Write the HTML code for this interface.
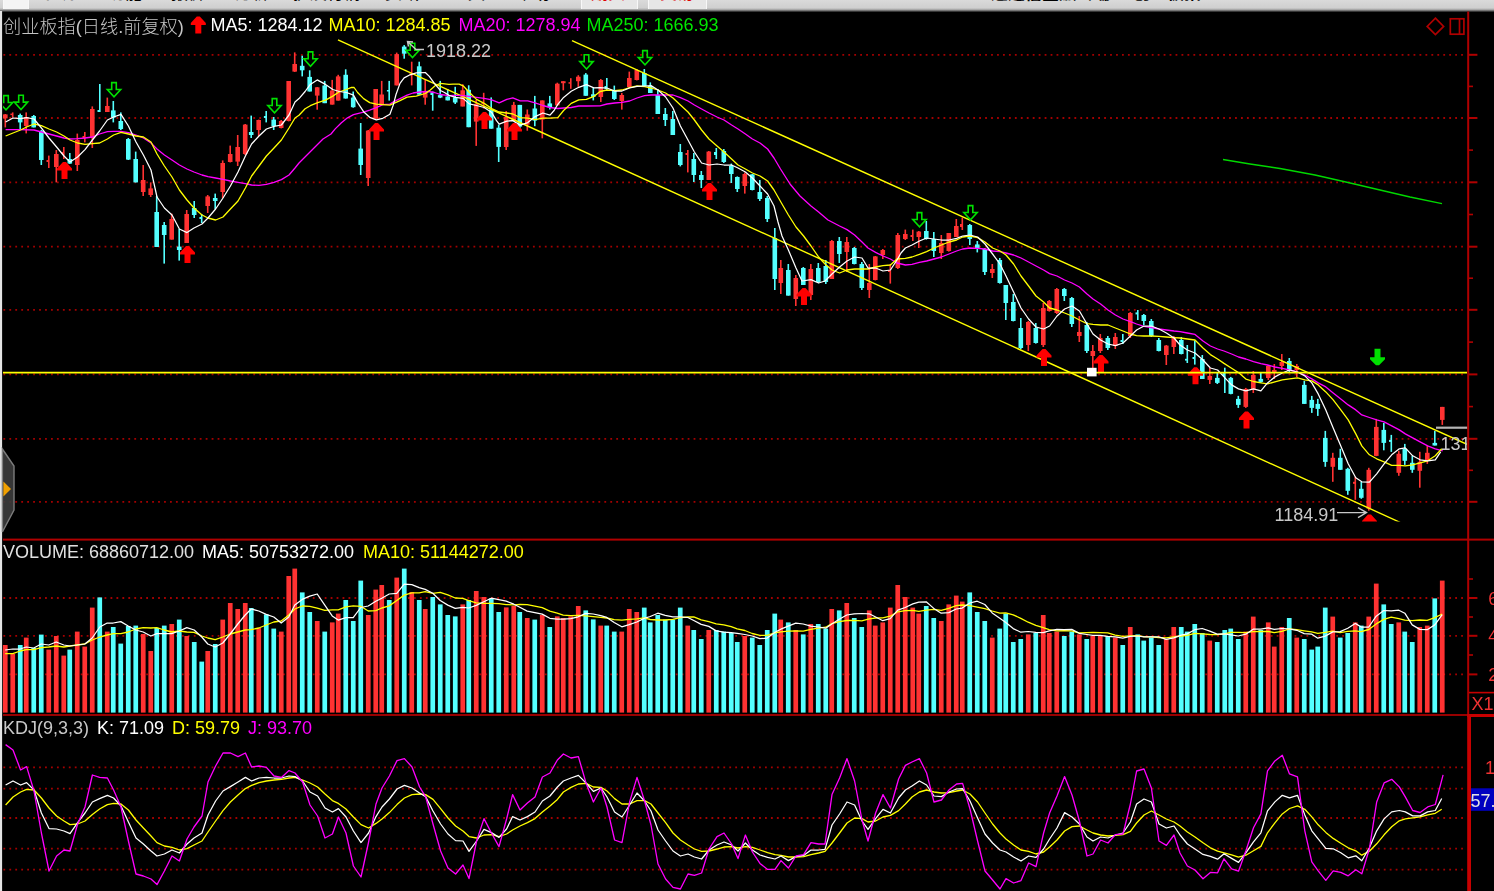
<!DOCTYPE html>
<html lang="zh-CN"><head><meta charset="utf-8"><title>创业板指</title>
<style>
html,body{margin:0;padding:0;background:#000;}
body{width:1494px;height:891px;overflow:hidden;position:relative;font-family:"Liberation Sans","Noto Sans CJK SC",sans-serif;}
#topbar{position:absolute;left:0;top:0;width:1494px;height:13px;overflow:hidden;
 background:linear-gradient(#dadada 0,#cfcfcf 8px,#a4a4a4 9.7px,#585858 11px,#000 12.3px);}
#topbar span{position:absolute;top:-16.5px;font-size:17px;line-height:20px;color:#000;white-space:nowrap;}
#topbar span.r{color:#e00000;}
#topbar i{position:absolute;top:0;height:8.5px;background:#e6e6e6;border-left:1px solid #f8f8f8;border-right:1px solid #f8f8f8;}
</style></head>
<body>
<div id="topbar">
<i style="left:2.5px;width:24px;background:#f4f4f4"></i>
<i style="left:581px;width:55px"></i><i style="left:648px;width:57px"></i>
<span style="left:41px">系统</span><span style="left:108px">功能</span><span style="left:171px">报价</span><span style="left:235px">分析</span>
<span style="left:293px">扩展行情</span><span style="left:385px">资讯</span><span style="left:451px">工具</span><span style="left:516px">帮助</span>
<span class="r" style="left:591px">期货</span><span class="r" style="left:660px">交易</span>
<span style="left:991px;font-weight:bold">通达信金融终端</span><span style="left:1133px;font-weight:bold">创业板指</span>
</div>
<svg width="1494" height="891" viewBox="0 0 1494 891" style="position:absolute;left:0;top:0;will-change:transform">
<g stroke="#a40000" stroke-width="1.8" stroke-dasharray="1.8 4.15" fill="none">
<line x1="3.4" y1="54.8" x2="1465" y2="54.8"/>
<line x1="3.4" y1="118" x2="1465" y2="118"/>
<line x1="3.4" y1="182.3" x2="1465" y2="182.3"/>
<line x1="3.4" y1="246.7" x2="1465" y2="246.7"/>
<line x1="3.4" y1="309.8" x2="1465" y2="309.8"/>
<line x1="3.4" y1="374.4" x2="1465" y2="374.4"/>
<line x1="3.4" y1="438.8" x2="1465" y2="438.8"/>
<line x1="3.4" y1="501.8" x2="1465" y2="501.8"/>
<line x1="3.4" y1="598" x2="1465" y2="598"/>
<line x1="3.4" y1="635.8" x2="1465" y2="635.8"/>
<line x1="3.4" y1="674.4" x2="1465" y2="674.4"/>
<line x1="3.4" y1="767.4" x2="1465" y2="767.4"/>
<line x1="3.4" y1="788.6" x2="1465" y2="788.6"/>
<line x1="3.4" y1="818" x2="1465" y2="818"/>
<line x1="3.4" y1="848.6" x2="1465" y2="848.6"/>
<line x1="3.4" y1="869.6" x2="1465" y2="869.6"/>
</g>
<defs><clipPath id="cm"><rect x="3" y="12" width="1464" height="509.5"/></clipPath><clipPath id="ck"><rect x="3" y="717" width="1464" height="174"/></clipPath></defs>
<g clip-path="url(#cm)">
<rect x="4.5" y="114" width="1.6" height="13.4" fill="#ff3232"/>
<rect x="3" y="114.4" width="4.6" height="4" fill="#ff3232"/>
<rect x="11.9" y="112.4" width="1.6" height="5.2" fill="#ff3232"/>
<rect x="10.4" y="113.6" width="2.3" height="1.5" fill="#ff3232"/>
<rect x="19.4" y="113.6" width="1.6" height="15.4" fill="#54ffff"/>
<rect x="17.9" y="115" width="4.6" height="7.4" fill="#54ffff"/>
<rect x="25.4" y="112.4" width="1.6" height="21" fill="#ff3232"/>
<rect x="23.9" y="117" width="4.6" height="9" fill="#ff3232"/>
<rect x="33" y="115" width="1.6" height="12.4" fill="#54ffff"/>
<rect x="31.4" y="116" width="4.6" height="11.4" fill="#54ffff"/>
<rect x="40.5" y="130" width="1.6" height="35" fill="#54ffff"/>
<rect x="39" y="131" width="4.6" height="29" fill="#54ffff"/>
<rect x="48" y="155.6" width="1.6" height="12.4" fill="#ff3232"/>
<rect x="46.5" y="160" width="2.3" height="2" fill="#ff3232"/>
<rect x="55.5" y="150" width="1.6" height="32.4" fill="#ff3232"/>
<rect x="54" y="154" width="4.6" height="13" fill="#ff3232"/>
<rect x="63" y="147" width="1.6" height="12" fill="#ff3232"/>
<rect x="61.5" y="152" width="2.3" height="2" fill="#ff3232"/>
<rect x="69" y="153" width="1.6" height="11" fill="#54ffff"/>
<rect x="67.5" y="159" width="4.6" height="4.6" fill="#54ffff"/>
<rect x="76.5" y="133.6" width="1.6" height="37.4" fill="#ff3232"/>
<rect x="75" y="140" width="4.6" height="25" fill="#ff3232"/>
<rect x="84" y="132" width="1.6" height="10.4" fill="#ff3232"/>
<rect x="82.5" y="136" width="2.3" height="2" fill="#ff3232"/>
<rect x="91.5" y="106.4" width="1.6" height="41.6" fill="#ff3232"/>
<rect x="90" y="109" width="4.6" height="29" fill="#ff3232"/>
<rect x="99" y="84" width="1.6" height="28" fill="#54ffff"/>
<rect x="97.5" y="110" width="2.3" height="2" fill="#54ffff"/>
<rect x="106.5" y="97.6" width="1.6" height="14.4" fill="#ff3232"/>
<rect x="105" y="106" width="4.6" height="6" fill="#ff3232"/>
<rect x="112.5" y="101" width="1.6" height="21.4" fill="#54ffff"/>
<rect x="111" y="110.4" width="4.6" height="7.2" fill="#54ffff"/>
<rect x="120" y="112.4" width="1.6" height="17.6" fill="#54ffff"/>
<rect x="118.5" y="121" width="4.6" height="8" fill="#54ffff"/>
<rect x="127.5" y="138" width="1.6" height="22" fill="#54ffff"/>
<rect x="126" y="139" width="4.6" height="20.6" fill="#54ffff"/>
<rect x="134.9" y="151.6" width="1.6" height="30.8" fill="#54ffff"/>
<rect x="133.4" y="159" width="4.6" height="23.4" fill="#54ffff"/>
<rect x="142.4" y="165" width="1.6" height="31" fill="#ff3232"/>
<rect x="140.9" y="180" width="4.6" height="12" fill="#ff3232"/>
<rect x="149.9" y="182.4" width="1.6" height="14.6" fill="#ff3232"/>
<rect x="148.4" y="188.4" width="4.6" height="6.6" fill="#ff3232"/>
<rect x="155.9" y="196" width="1.6" height="51" fill="#54ffff"/>
<rect x="154.4" y="212" width="4.6" height="35" fill="#54ffff"/>
<rect x="163.4" y="222" width="1.6" height="41.6" fill="#54ffff"/>
<rect x="161.9" y="225" width="4.6" height="10" fill="#54ffff"/>
<rect x="170.9" y="213.6" width="1.6" height="26" fill="#ff3232"/>
<rect x="169.4" y="219" width="4.6" height="20.6" fill="#ff3232"/>
<rect x="178.4" y="229" width="1.6" height="31.6" fill="#54ffff"/>
<rect x="176.9" y="246.6" width="4.6" height="3.4" fill="#54ffff"/>
<rect x="185.9" y="210" width="1.6" height="33" fill="#ff3232"/>
<rect x="184.4" y="214" width="4.6" height="29" fill="#ff3232"/>
<rect x="193.4" y="201" width="1.6" height="17" fill="#54ffff"/>
<rect x="191.9" y="208" width="4.6" height="7" fill="#54ffff"/>
<rect x="200.9" y="214" width="1.6" height="9" fill="#54ffff"/>
<rect x="199.4" y="217" width="2.3" height="2" fill="#54ffff"/>
<rect x="206.9" y="195" width="1.6" height="18" fill="#ff3232"/>
<rect x="205.4" y="196.4" width="4.6" height="9.6" fill="#ff3232"/>
<rect x="214.4" y="193.6" width="1.6" height="15.4" fill="#54ffff"/>
<rect x="212.9" y="198" width="4.6" height="3" fill="#54ffff"/>
<rect x="221.9" y="160.4" width="1.6" height="37.6" fill="#ff3232"/>
<rect x="220.4" y="163" width="4.6" height="29" fill="#ff3232"/>
<rect x="229.4" y="145.6" width="1.6" height="16.8" fill="#ff3232"/>
<rect x="227.9" y="154" width="4.6" height="8" fill="#ff3232"/>
<rect x="236.9" y="135" width="1.6" height="31" fill="#ff3232"/>
<rect x="235.4" y="147" width="4.6" height="14.6" fill="#ff3232"/>
<rect x="244.4" y="124" width="1.6" height="31" fill="#ff3232"/>
<rect x="242.9" y="124.6" width="4.6" height="29.4" fill="#ff3232"/>
<rect x="250.4" y="115.6" width="1.6" height="22.4" fill="#54ffff"/>
<rect x="248.9" y="132" width="4.6" height="3" fill="#54ffff"/>
<rect x="257.9" y="119.6" width="1.6" height="16.4" fill="#ff3232"/>
<rect x="256.4" y="120" width="4.6" height="10" fill="#ff3232"/>
<rect x="265.4" y="111" width="1.6" height="11.4" fill="#54ffff"/>
<rect x="263.9" y="116" width="2.3" height="2" fill="#54ffff"/>
<rect x="272.9" y="117" width="1.6" height="13" fill="#54ffff"/>
<rect x="271.4" y="119.6" width="4.6" height="6.4" fill="#54ffff"/>
<rect x="280.4" y="120" width="1.6" height="8.4" fill="#ff3232"/>
<rect x="278.9" y="121" width="4.6" height="7" fill="#ff3232"/>
<rect x="287.9" y="81" width="1.6" height="40.4" fill="#ff3232"/>
<rect x="286.4" y="81" width="4.6" height="40" fill="#ff3232"/>
<rect x="293.9" y="52.4" width="1.6" height="19.6" fill="#ff3232"/>
<rect x="292.4" y="64" width="4.6" height="7.6" fill="#ff3232"/>
<rect x="301.4" y="55.7" width="1.6" height="20.7" fill="#54ffff"/>
<rect x="299.9" y="65.8" width="4.6" height="4.5" fill="#54ffff"/>
<rect x="308.9" y="70.3" width="1.6" height="21.2" fill="#54ffff"/>
<rect x="307.4" y="76.9" width="4.6" height="14.6" fill="#54ffff"/>
<rect x="316.4" y="87" width="1.6" height="22.7" fill="#ff3232"/>
<rect x="314.9" y="87.3" width="4.6" height="8.3" fill="#ff3232"/>
<rect x="323.9" y="80.9" width="1.6" height="22.2" fill="#54ffff"/>
<rect x="322.4" y="85.5" width="4.6" height="17.7" fill="#54ffff"/>
<rect x="331.4" y="79.9" width="1.6" height="24.7" fill="#ff3232"/>
<rect x="329.9" y="90.5" width="4.6" height="14.1" fill="#ff3232"/>
<rect x="337.4" y="74.8" width="1.6" height="25.8" fill="#ff3232"/>
<rect x="335.9" y="76.4" width="4.6" height="24.2" fill="#ff3232"/>
<rect x="344.9" y="69.3" width="1.6" height="29.3" fill="#54ffff"/>
<rect x="343.4" y="74.8" width="4.6" height="23.7" fill="#54ffff"/>
<rect x="352.4" y="91.5" width="1.6" height="16.2" fill="#54ffff"/>
<rect x="350.9" y="97.6" width="4.6" height="9.6" fill="#54ffff"/>
<rect x="359.9" y="123" width="1.6" height="52" fill="#54ffff"/>
<rect x="358.4" y="148.6" width="4.6" height="16.4" fill="#54ffff"/>
<rect x="367.4" y="130" width="1.6" height="56" fill="#ff3232"/>
<rect x="365.9" y="130.6" width="4.6" height="47.4" fill="#ff3232"/>
<rect x="374.9" y="89" width="1.6" height="29.8" fill="#ff3232"/>
<rect x="373.4" y="89" width="4.6" height="29.8" fill="#ff3232"/>
<rect x="380.9" y="80.9" width="1.6" height="23.7" fill="#ff3232"/>
<rect x="379.4" y="94.5" width="4.6" height="10.1" fill="#ff3232"/>
<rect x="388.4" y="80.9" width="1.6" height="19.7" fill="#54ffff"/>
<rect x="386.9" y="90" width="2.3" height="1.5" fill="#54ffff"/>
<rect x="395.9" y="52.6" width="1.6" height="32.8" fill="#ff3232"/>
<rect x="394.4" y="54.1" width="4.6" height="31.3" fill="#ff3232"/>
<rect x="403.4" y="45.1" width="1.6" height="13.6" fill="#54ffff"/>
<rect x="401.9" y="46.6" width="4.6" height="7.1" fill="#54ffff"/>
<rect x="410.9" y="61.7" width="1.6" height="23.7" fill="#ff3232"/>
<rect x="409.4" y="73.3" width="2.3" height="1.5" fill="#ff3232"/>
<rect x="418.4" y="61.7" width="1.6" height="32.8" fill="#54ffff"/>
<rect x="416.9" y="66.3" width="4.6" height="28.3" fill="#54ffff"/>
<rect x="424.4" y="79.4" width="1.6" height="25.3" fill="#ff3232"/>
<rect x="422.9" y="91" width="4.6" height="6.6" fill="#ff3232"/>
<rect x="431.9" y="91.5" width="1.6" height="19.2" fill="#54ffff"/>
<rect x="430.4" y="92.5" width="2.3" height="2.5" fill="#54ffff"/>
<rect x="439.4" y="80.9" width="1.6" height="17.2" fill="#54ffff"/>
<rect x="437.9" y="95.1" width="4.6" height="2.5" fill="#54ffff"/>
<rect x="446.9" y="89" width="1.6" height="11.4" fill="#54ffff"/>
<rect x="445.4" y="96.5" width="4.6" height="3.9" fill="#54ffff"/>
<rect x="454.4" y="86.8" width="1.6" height="17.2" fill="#54ffff"/>
<rect x="452.9" y="97.4" width="4.6" height="5.1" fill="#54ffff"/>
<rect x="461.9" y="84.2" width="1.6" height="22.2" fill="#ff3232"/>
<rect x="460.4" y="90.3" width="4.6" height="16.2" fill="#ff3232"/>
<rect x="467.9" y="85.3" width="1.6" height="41.9" fill="#54ffff"/>
<rect x="466.4" y="89.8" width="4.6" height="37.4" fill="#54ffff"/>
<rect x="475.4" y="99.9" width="1.6" height="46" fill="#ff3232"/>
<rect x="473.9" y="103.9" width="4.6" height="17.7" fill="#ff3232"/>
<rect x="482.9" y="92.8" width="1.6" height="15.7" fill="#ff3232"/>
<rect x="481.4" y="102.4" width="2.3" height="1.5" fill="#ff3232"/>
<rect x="490.4" y="97.4" width="1.6" height="31.3" fill="#54ffff"/>
<rect x="488.9" y="109.5" width="4.6" height="19.2" fill="#54ffff"/>
<rect x="497.9" y="124.6" width="1.6" height="37.4" fill="#54ffff"/>
<rect x="496.4" y="127.7" width="4.6" height="19.2" fill="#54ffff"/>
<rect x="505.4" y="111" width="1.6" height="39" fill="#ff3232"/>
<rect x="503.9" y="117" width="4.6" height="30" fill="#ff3232"/>
<rect x="513" y="101.9" width="1.6" height="18.7" fill="#ff3232"/>
<rect x="511.4" y="104.9" width="4.6" height="15.7" fill="#ff3232"/>
<rect x="519" y="104.9" width="1.6" height="24.7" fill="#54ffff"/>
<rect x="517.5" y="104.9" width="4.6" height="21.7" fill="#54ffff"/>
<rect x="526.5" y="109.5" width="1.6" height="21.2" fill="#ff3232"/>
<rect x="525" y="114.5" width="4.6" height="10.1" fill="#ff3232"/>
<rect x="534" y="95.9" width="1.6" height="30.3" fill="#54ffff"/>
<rect x="532.5" y="108.5" width="4.6" height="12.1" fill="#54ffff"/>
<rect x="541.5" y="100.4" width="1.6" height="37.9" fill="#ff3232"/>
<rect x="540" y="100.4" width="4.6" height="19.2" fill="#ff3232"/>
<rect x="549" y="95.9" width="1.6" height="13.6" fill="#54ffff"/>
<rect x="547.5" y="103.4" width="4.6" height="4" fill="#54ffff"/>
<rect x="556.5" y="82.7" width="1.6" height="22.7" fill="#ff3232"/>
<rect x="555" y="83.7" width="4.6" height="21.7" fill="#ff3232"/>
<rect x="562.5" y="81.2" width="1.6" height="9.1" fill="#ff3232"/>
<rect x="561" y="81.2" width="4.6" height="2" fill="#ff3232"/>
<rect x="570" y="78.2" width="1.6" height="10.6" fill="#ff3232"/>
<rect x="568.5" y="82.2" width="2.3" height="1.5" fill="#ff3232"/>
<rect x="577.5" y="75.2" width="1.6" height="11.6" fill="#ff3232"/>
<rect x="576" y="76.7" width="4.6" height="4.5" fill="#ff3232"/>
<rect x="585" y="73.1" width="1.6" height="22.7" fill="#54ffff"/>
<rect x="583.5" y="74.6" width="4.6" height="21.2" fill="#54ffff"/>
<rect x="592.5" y="87.8" width="1.6" height="12.6" fill="#54ffff"/>
<rect x="591" y="94.3" width="4.6" height="2.5" fill="#54ffff"/>
<rect x="600" y="79" width="1.6" height="23" fill="#ff3232"/>
<rect x="598.5" y="80" width="4.6" height="17" fill="#ff3232"/>
<rect x="606" y="78" width="1.6" height="12" fill="#54ffff"/>
<rect x="604.5" y="86" width="2.3" height="3" fill="#54ffff"/>
<rect x="613.5" y="85.6" width="1.6" height="14.4" fill="#54ffff"/>
<rect x="612" y="90" width="4.6" height="9" fill="#54ffff"/>
<rect x="621" y="93" width="1.6" height="16.6" fill="#ff3232"/>
<rect x="619.5" y="95" width="4.6" height="6" fill="#ff3232"/>
<rect x="628.5" y="71.6" width="1.6" height="16.4" fill="#ff3232"/>
<rect x="627" y="78" width="4.6" height="9" fill="#ff3232"/>
<rect x="636" y="69" width="1.6" height="11.4" fill="#ff3232"/>
<rect x="634.5" y="70" width="4.6" height="10" fill="#ff3232"/>
<rect x="643.5" y="69" width="1.6" height="18" fill="#54ffff"/>
<rect x="642" y="73" width="4.6" height="13" fill="#54ffff"/>
<rect x="649.5" y="82.4" width="1.6" height="10.6" fill="#54ffff"/>
<rect x="648" y="86" width="4.6" height="7" fill="#54ffff"/>
<rect x="657" y="89" width="1.6" height="25" fill="#54ffff"/>
<rect x="655.5" y="95" width="4.6" height="19" fill="#54ffff"/>
<rect x="664.5" y="108" width="1.6" height="18" fill="#54ffff"/>
<rect x="663" y="114" width="4.6" height="6" fill="#54ffff"/>
<rect x="672" y="111" width="1.6" height="24" fill="#54ffff"/>
<rect x="670.5" y="119" width="4.6" height="16" fill="#54ffff"/>
<rect x="679.5" y="144" width="1.6" height="22.4" fill="#54ffff"/>
<rect x="678" y="152" width="4.6" height="13" fill="#54ffff"/>
<rect x="687" y="150" width="1.6" height="22.4" fill="#ff3232"/>
<rect x="685.5" y="153" width="2.3" height="2" fill="#ff3232"/>
<rect x="693" y="153" width="1.6" height="29" fill="#54ffff"/>
<rect x="691.5" y="159" width="4.6" height="16" fill="#54ffff"/>
<rect x="700.5" y="171" width="1.6" height="17" fill="#54ffff"/>
<rect x="699" y="175" width="4.6" height="5" fill="#54ffff"/>
<rect x="708" y="151" width="1.6" height="29" fill="#ff3232"/>
<rect x="706.5" y="151.6" width="4.6" height="28.4" fill="#ff3232"/>
<rect x="715.5" y="148" width="1.6" height="11" fill="#54ffff"/>
<rect x="714" y="152" width="2.3" height="3" fill="#54ffff"/>
<rect x="723" y="149" width="1.6" height="14" fill="#54ffff"/>
<rect x="721.5" y="151" width="4.6" height="11" fill="#54ffff"/>
<rect x="730.5" y="163.6" width="1.6" height="19.4" fill="#54ffff"/>
<rect x="729" y="166" width="4.6" height="8" fill="#54ffff"/>
<rect x="736.5" y="176.4" width="1.6" height="15.6" fill="#54ffff"/>
<rect x="735" y="177" width="4.6" height="12" fill="#54ffff"/>
<rect x="744" y="172.4" width="1.6" height="21.2" fill="#ff3232"/>
<rect x="742.5" y="174" width="4.6" height="12" fill="#ff3232"/>
<rect x="751.5" y="174" width="1.6" height="16.4" fill="#54ffff"/>
<rect x="750" y="174.4" width="4.6" height="15.6" fill="#54ffff"/>
<rect x="759" y="180" width="1.6" height="21" fill="#54ffff"/>
<rect x="757.5" y="192" width="4.6" height="7" fill="#54ffff"/>
<rect x="766.5" y="196" width="1.6" height="26" fill="#54ffff"/>
<rect x="765" y="198" width="4.6" height="21" fill="#54ffff"/>
<rect x="774" y="228" width="1.6" height="62" fill="#54ffff"/>
<rect x="772.5" y="238" width="4.6" height="41" fill="#54ffff"/>
<rect x="780" y="260" width="1.6" height="34" fill="#ff3232"/>
<rect x="778.5" y="268" width="4.6" height="15" fill="#ff3232"/>
<rect x="787.5" y="264" width="1.6" height="31.6" fill="#54ffff"/>
<rect x="786" y="270" width="4.6" height="25.6" fill="#54ffff"/>
<rect x="795" y="275" width="1.6" height="31" fill="#ff3232"/>
<rect x="793.5" y="278" width="4.6" height="21" fill="#ff3232"/>
<rect x="802.5" y="267" width="1.6" height="18" fill="#54ffff"/>
<rect x="801" y="268" width="4.6" height="17" fill="#54ffff"/>
<rect x="810" y="264" width="1.6" height="36" fill="#ff3232"/>
<rect x="808.5" y="269" width="4.6" height="26" fill="#ff3232"/>
<rect x="817.5" y="263" width="1.6" height="20" fill="#54ffff"/>
<rect x="816" y="268" width="4.6" height="14" fill="#54ffff"/>
<rect x="825" y="260" width="1.6" height="24" fill="#54ffff"/>
<rect x="823.5" y="266" width="4.6" height="16" fill="#54ffff"/>
<rect x="831" y="240" width="1.6" height="39" fill="#ff3232"/>
<rect x="829.5" y="241" width="4.6" height="38" fill="#ff3232"/>
<rect x="838.5" y="237" width="1.6" height="26" fill="#54ffff"/>
<rect x="837" y="241" width="4.6" height="13" fill="#54ffff"/>
<rect x="846" y="237" width="1.6" height="35" fill="#ff3232"/>
<rect x="844.5" y="242" width="4.6" height="10" fill="#ff3232"/>
<rect x="853.5" y="247" width="1.6" height="17.4" fill="#54ffff"/>
<rect x="852" y="248" width="4.6" height="16" fill="#54ffff"/>
<rect x="861" y="262" width="1.6" height="28" fill="#54ffff"/>
<rect x="859.5" y="264" width="4.6" height="24" fill="#54ffff"/>
<rect x="868.5" y="264" width="1.6" height="34" fill="#ff3232"/>
<rect x="867" y="283" width="4.6" height="7" fill="#ff3232"/>
<rect x="874.5" y="256" width="1.6" height="24.4" fill="#ff3232"/>
<rect x="873" y="256.4" width="4.6" height="23.6" fill="#ff3232"/>
<rect x="882" y="249" width="1.6" height="10" fill="#ff3232"/>
<rect x="880.5" y="250" width="4.6" height="5" fill="#ff3232"/>
<rect x="889.5" y="264" width="1.6" height="19.6" fill="#ff3232"/>
<rect x="888" y="270" width="2.3" height="2" fill="#ff3232"/>
<rect x="897" y="233" width="1.6" height="36" fill="#ff3232"/>
<rect x="895.5" y="235" width="4.6" height="33" fill="#ff3232"/>
<rect x="904.5" y="229.6" width="1.6" height="10.4" fill="#ff3232"/>
<rect x="903" y="234" width="4.6" height="5" fill="#ff3232"/>
<rect x="912" y="229.6" width="1.6" height="11.4" fill="#ff3232"/>
<rect x="910.5" y="235" width="2.3" height="2" fill="#ff3232"/>
<rect x="918" y="231" width="1.6" height="17" fill="#ff3232"/>
<rect x="916.5" y="231.6" width="4.6" height="5.4" fill="#ff3232"/>
<rect x="925.5" y="221" width="1.6" height="18.6" fill="#54ffff"/>
<rect x="924" y="231" width="4.6" height="8" fill="#54ffff"/>
<rect x="933" y="232" width="1.6" height="25" fill="#54ffff"/>
<rect x="931.5" y="239" width="4.6" height="12" fill="#54ffff"/>
<rect x="940.5" y="235" width="1.6" height="24" fill="#ff3232"/>
<rect x="939" y="243" width="4.6" height="10" fill="#ff3232"/>
<rect x="948" y="233" width="1.6" height="18.6" fill="#ff3232"/>
<rect x="946.5" y="233" width="4.6" height="18" fill="#ff3232"/>
<rect x="955.5" y="219" width="1.6" height="18" fill="#ff3232"/>
<rect x="954" y="226" width="4.6" height="11" fill="#ff3232"/>
<rect x="961.5" y="217.6" width="1.6" height="12.4" fill="#ff3232"/>
<rect x="960" y="224" width="2.3" height="3" fill="#ff3232"/>
<rect x="969" y="224" width="1.6" height="21" fill="#54ffff"/>
<rect x="967.5" y="225" width="4.6" height="14" fill="#54ffff"/>
<rect x="976.5" y="241" width="1.6" height="11.4" fill="#54ffff"/>
<rect x="975" y="244.4" width="4.6" height="3.6" fill="#54ffff"/>
<rect x="984" y="248" width="1.6" height="27" fill="#54ffff"/>
<rect x="982.5" y="249" width="4.6" height="23" fill="#54ffff"/>
<rect x="991.5" y="264" width="1.6" height="14" fill="#ff3232"/>
<rect x="990" y="269" width="4.6" height="4" fill="#ff3232"/>
<rect x="999" y="258" width="1.6" height="25.6" fill="#54ffff"/>
<rect x="997.5" y="260" width="4.6" height="23" fill="#54ffff"/>
<rect x="1005" y="285" width="1.6" height="35" fill="#54ffff"/>
<rect x="1003.5" y="285" width="4.6" height="18" fill="#54ffff"/>
<rect x="1012.5" y="294" width="1.6" height="27.4" fill="#54ffff"/>
<rect x="1011" y="302" width="4.6" height="19" fill="#54ffff"/>
<rect x="1020" y="318" width="1.6" height="31" fill="#54ffff"/>
<rect x="1018.5" y="328" width="4.6" height="20" fill="#54ffff"/>
<rect x="1027.5" y="321" width="1.6" height="30" fill="#ff3232"/>
<rect x="1026" y="322" width="4.6" height="23" fill="#ff3232"/>
<rect x="1035" y="323" width="1.6" height="20.6" fill="#54ffff"/>
<rect x="1033.5" y="328" width="4.6" height="15" fill="#54ffff"/>
<rect x="1042.5" y="303" width="1.6" height="44" fill="#ff3232"/>
<rect x="1041" y="308" width="4.6" height="37" fill="#ff3232"/>
<rect x="1048.5" y="300" width="1.6" height="11.6" fill="#ff3232"/>
<rect x="1047" y="301" width="4.6" height="10" fill="#ff3232"/>
<rect x="1056" y="288" width="1.6" height="26" fill="#ff3232"/>
<rect x="1054.5" y="289" width="4.6" height="24" fill="#ff3232"/>
<rect x="1063.5" y="288" width="1.6" height="13" fill="#54ffff"/>
<rect x="1062" y="289" width="4.6" height="7" fill="#54ffff"/>
<rect x="1071" y="297" width="1.6" height="30" fill="#54ffff"/>
<rect x="1069.5" y="298" width="4.6" height="26" fill="#54ffff"/>
<rect x="1078.5" y="316" width="1.6" height="26" fill="#ff3232"/>
<rect x="1077" y="332" width="4.6" height="4" fill="#ff3232"/>
<rect x="1086" y="322" width="1.6" height="31" fill="#54ffff"/>
<rect x="1084.5" y="325" width="4.6" height="26" fill="#54ffff"/>
<rect x="1092" y="345" width="1.6" height="23" fill="#ff3232"/>
<rect x="1090.5" y="351" width="4.6" height="5" fill="#ff3232"/>
<rect x="1099.5" y="334" width="1.6" height="19" fill="#ff3232"/>
<rect x="1098" y="338" width="4.6" height="13" fill="#ff3232"/>
<rect x="1107" y="336" width="1.6" height="14" fill="#54ffff"/>
<rect x="1105.5" y="338" width="4.6" height="10" fill="#54ffff"/>
<rect x="1114.5" y="333" width="1.6" height="16" fill="#ff3232"/>
<rect x="1113" y="337" width="4.6" height="9" fill="#ff3232"/>
<rect x="1122" y="334" width="1.6" height="10" fill="#54ffff"/>
<rect x="1120.5" y="340" width="2.3" height="2" fill="#54ffff"/>
<rect x="1129.5" y="312" width="1.6" height="26" fill="#ff3232"/>
<rect x="1128" y="313" width="4.6" height="23" fill="#ff3232"/>
<rect x="1137" y="310" width="1.6" height="10" fill="#54ffff"/>
<rect x="1135.5" y="312.4" width="2.3" height="2" fill="#54ffff"/>
<rect x="1143" y="314" width="1.6" height="11" fill="#54ffff"/>
<rect x="1141.5" y="315" width="4.6" height="6" fill="#54ffff"/>
<rect x="1150.5" y="319" width="1.6" height="18" fill="#54ffff"/>
<rect x="1149" y="321" width="4.6" height="15" fill="#54ffff"/>
<rect x="1158" y="338" width="1.6" height="13.4" fill="#54ffff"/>
<rect x="1156.5" y="340" width="4.6" height="11" fill="#54ffff"/>
<rect x="1165.5" y="345" width="1.6" height="20" fill="#ff3232"/>
<rect x="1164" y="345.6" width="4.6" height="9.4" fill="#ff3232"/>
<rect x="1173" y="336" width="1.6" height="18" fill="#ff3232"/>
<rect x="1171.5" y="338" width="4.6" height="9" fill="#ff3232"/>
<rect x="1180.5" y="337" width="1.6" height="17.4" fill="#54ffff"/>
<rect x="1179" y="340" width="4.6" height="14" fill="#54ffff"/>
<rect x="1186.5" y="345" width="1.6" height="18" fill="#54ffff"/>
<rect x="1185" y="358.8" width="2.3" height="1.8" fill="#54ffff"/>
<rect x="1194" y="340.4" width="1.6" height="24.2" fill="#54ffff"/>
<rect x="1192.5" y="357" width="2.3" height="2" fill="#54ffff"/>
<rect x="1201.5" y="355" width="1.6" height="24" fill="#54ffff"/>
<rect x="1200" y="359" width="4.6" height="20" fill="#54ffff"/>
<rect x="1209" y="368" width="1.6" height="16" fill="#ff3232"/>
<rect x="1207.5" y="375.9" width="4.6" height="4" fill="#ff3232"/>
<rect x="1216.5" y="373" width="1.6" height="11" fill="#54ffff"/>
<rect x="1215" y="377.9" width="4.6" height="5" fill="#54ffff"/>
<rect x="1224" y="367.7" width="1.6" height="25.3" fill="#54ffff"/>
<rect x="1222.5" y="373" width="2.3" height="3" fill="#54ffff"/>
<rect x="1230" y="376.9" width="1.6" height="17.4" fill="#54ffff"/>
<rect x="1228.5" y="377.9" width="4.6" height="16" fill="#54ffff"/>
<rect x="1237.5" y="395.9" width="1.6" height="12" fill="#54ffff"/>
<rect x="1236" y="398.9" width="4.6" height="6" fill="#54ffff"/>
<rect x="1245" y="387.9" width="1.6" height="20" fill="#ff3232"/>
<rect x="1243.5" y="388.9" width="4.6" height="18" fill="#ff3232"/>
<rect x="1252.5" y="371" width="1.6" height="22" fill="#ff3232"/>
<rect x="1251" y="375" width="4.6" height="15" fill="#ff3232"/>
<rect x="1260" y="373" width="1.6" height="10" fill="#54ffff"/>
<rect x="1258.5" y="378.9" width="4.6" height="3" fill="#54ffff"/>
<rect x="1267.5" y="365" width="1.6" height="15" fill="#ff3232"/>
<rect x="1266" y="366" width="4.6" height="12" fill="#ff3232"/>
<rect x="1273.5" y="364" width="1.6" height="15" fill="#ff3232"/>
<rect x="1272" y="370" width="4.6" height="3" fill="#ff3232"/>
<rect x="1281" y="354" width="1.6" height="16" fill="#ff3232"/>
<rect x="1279.5" y="362" width="4.6" height="4" fill="#ff3232"/>
<rect x="1288.5" y="358" width="1.6" height="14" fill="#54ffff"/>
<rect x="1287" y="361" width="4.6" height="10" fill="#54ffff"/>
<rect x="1296" y="364" width="1.6" height="13" fill="#ff3232"/>
<rect x="1294.5" y="366" width="4.6" height="4" fill="#ff3232"/>
<rect x="1303.5" y="380.9" width="1.6" height="23" fill="#54ffff"/>
<rect x="1302" y="384.9" width="4.6" height="19" fill="#54ffff"/>
<rect x="1311" y="395.9" width="1.6" height="17" fill="#54ffff"/>
<rect x="1309.5" y="399.9" width="4.6" height="8" fill="#54ffff"/>
<rect x="1317" y="398.9" width="1.6" height="17" fill="#54ffff"/>
<rect x="1315.5" y="403.9" width="4.6" height="5" fill="#54ffff"/>
<rect x="1324.5" y="430.9" width="1.6" height="35.9" fill="#54ffff"/>
<rect x="1323" y="437.9" width="4.6" height="24" fill="#54ffff"/>
<rect x="1332" y="452.8" width="1.6" height="29" fill="#ff3232"/>
<rect x="1330.5" y="457.8" width="4.6" height="9" fill="#ff3232"/>
<rect x="1339.5" y="448.8" width="1.6" height="21" fill="#54ffff"/>
<rect x="1338" y="457.8" width="4.6" height="12" fill="#54ffff"/>
<rect x="1347" y="467.8" width="1.6" height="27" fill="#54ffff"/>
<rect x="1345.5" y="468.8" width="4.6" height="22" fill="#54ffff"/>
<rect x="1354.5" y="476.8" width="1.6" height="23" fill="#ff3232"/>
<rect x="1353" y="481.8" width="2.3" height="2" fill="#ff3232"/>
<rect x="1360.5" y="481.8" width="1.6" height="17" fill="#54ffff"/>
<rect x="1359" y="488.8" width="4.6" height="9" fill="#54ffff"/>
<rect x="1368" y="467.8" width="1.6" height="42.9" fill="#ff3232"/>
<rect x="1366.5" y="469.8" width="4.6" height="38.9" fill="#ff3232"/>
<rect x="1375.5" y="418.9" width="1.6" height="37.3" fill="#ff3232"/>
<rect x="1374" y="426.9" width="4.6" height="29" fill="#ff3232"/>
<rect x="1383" y="422.9" width="1.6" height="27.4" fill="#54ffff"/>
<rect x="1381.5" y="429.9" width="4.6" height="13" fill="#54ffff"/>
<rect x="1390.5" y="434.9" width="1.6" height="17" fill="#54ffff"/>
<rect x="1389" y="439.9" width="2.3" height="2" fill="#54ffff"/>
<rect x="1398" y="450.8" width="1.6" height="25" fill="#ff3232"/>
<rect x="1396.5" y="453.8" width="4.6" height="19" fill="#ff3232"/>
<rect x="1404" y="443.9" width="1.6" height="21" fill="#54ffff"/>
<rect x="1402.5" y="448.8" width="4.6" height="12" fill="#54ffff"/>
<rect x="1411.5" y="455.8" width="1.6" height="17" fill="#54ffff"/>
<rect x="1410" y="462.8" width="4.6" height="7" fill="#54ffff"/>
<rect x="1419" y="451.8" width="1.6" height="35.9" fill="#ff3232"/>
<rect x="1417.5" y="461.8" width="4.6" height="9" fill="#ff3232"/>
<rect x="1426.5" y="445.9" width="1.6" height="18" fill="#ff3232"/>
<rect x="1425" y="452.8" width="4.6" height="8" fill="#ff3232"/>
<rect x="1434" y="430.9" width="1.6" height="14.6" fill="#54ffff"/>
<rect x="1432.5" y="442.9" width="4.6" height="2.6" fill="#54ffff"/>
<rect x="1441.5" y="406.9" width="1.6" height="18" fill="#ff3232"/>
<rect x="1440" y="406.9" width="4.6" height="13" fill="#ff3232"/>
</g>
<g clip-path="url(#cm)" stroke="#ffff00" fill="none">
<line x1="572" y1="40.7" x2="1467" y2="444.3" stroke-width="1.4"/>
<line x1="338" y1="39.9" x2="1400" y2="522.3" stroke-width="1.4"/>
</g>
<g clip-path="url(#cm)">
<polyline points="5.6,129.6 20.6,129.6 34,130 41.4,132 49,134 56.6,136 64,138 70,139 77.6,138.6 85,138 92.4,137 99.6,134 107.4,131.6 113.6,131.4 121,131.4 128.4,132.6 136,135 143.4,138 151,143 157,149 164.4,155 172,160 179.4,165 187,169 194,172 202,175 208,176.6 215.6,178 223,179.4 230.4,181 238,182.4 245.4,183.6 251.6,185 259,185.4 266.4,184.4 274,182.4 281.4,179.6 289,175 295,168 299,163 307,155 315,147 323,139 331,134 335.2,128.9 341.4,122.8 347.5,117.8 353.5,114.7 363.6,112.2 369.7,110.2 376.3,107.7 382.8,104.6 389.9,104.1 393.9,101.6 400,98.6 407.1,95.1 413.1,93 419.7,92 428.3,91.5 434.4,92.5 440.4,94.5 449,95.6 453,95.4 455.6,95.4 463.1,95.6 469.2,96.4 476.5,97.4 484.2,98.4 491.7,99.9 499.2,102.9 506.8,99.4 512.8,97.9 520.2,100.9 527.8,100.9 535.1,102.9 542.9,105.5 550,107.5 557.8,108.5 563.6,108 571.2,107.5 578.8,106 586.4,106 600,105.8 607,104 614.6,103 622,102.4 629.6,101 637,98 644.6,95.6 651,95 658,95 665.6,95 673,95 680.4,97.6 688,101 694.4,105 701.6,109 709,113 717,117 724,120 731.6,125 738,129 745.4,134 752.4,139 760,143 767.6,149 774,158 780.5,169 790,184 800,196 811,206 818.6,212 828,220 839.6,226 847,229.6 854.6,235 862,242 868,248 875.6,252.4 883,256 890.4,259 897,263 905.4,265 912,264.4 919.4,262.4 926.6,261 934,259 941.4,257 949,254 956.6,251 962.6,249 970,248 977.6,248.4 985,249 992.6,251 1000,251.6 1006,253 1013.6,255 1021,258 1028.6,262 1036,266 1043.6,270 1049.6,273.6 1057,276 1064.6,280 1072,283 1079.4,287 1087,294 1093,299 1100.6,304 1108,310 1115.4,315 1123,319 1130.4,321.6 1136.6,324 1144,326.4 1151.4,327.6 1159,329 1166.4,330 1174,331 1180,331.6 1187.4,333 1195,334.4 1203,341 1210.4,346 1217.6,349 1224,351 1231.6,354 1238.5,357 1245.9,359 1253.5,361.6 1260.9,363.6 1267.5,365 1274.9,367 1282.3,368.4 1289.5,370 1297.5,372 1304.8,375 1311.8,378.9 1318.2,382.9 1325.8,386.9 1333.2,392.9 1340.8,398.9 1348.2,404.9 1355.8,409.9 1361.8,414.9 1369.4,417.5 1376.7,419.9 1384.1,421.9 1391.7,425.9 1399.3,429.9 1405.3,433.9 1412.7,437.9 1420.1,441.9 1427.7,445.9 1435.3,448.8 1442.7,450.8" fill="none" stroke="#ff00ff" stroke-width="1.3" stroke-linejoin="round" />
<polyline points="5.6,136 13,133 20.6,130 26.6,127 34,124 41.4,125.6 49,129 56.6,132 64,136 70,140 77.6,143 85,144.4 92.4,143.6 99.6,143 107.4,139 113.6,135 121,132.4 128.4,134 136,136 143.4,137 151,142 157,154 164.4,166 172,177 179.4,190 187,200 194,208 202,215 208,218 215.6,220 223,217 230.4,209 238,201 245.4,188 251.6,176 259,166 266.4,156 274,148 281.4,140 289,128 295,118 299,115.3 305.1,108.7 310.3,105.7 317.7,102.6 325.5,100.1 332.8,96.1 338.9,92 346.3,89.5 351.5,87.3 354.1,87.5 357.6,92.5 363.6,98.6 369.7,102.6 376.3,104.1 382.3,104.6 389.9,105.2 400,100.6 407.1,97.1 416.2,96.1 425.3,93.5 430.3,90 435.4,85.5 440.4,83.4 449,84.4 453,84.2 459.1,84.2 463.1,85.8 469.2,92.3 476.5,99.4 484.2,103.4 491.7,108.5 499.2,112 506.8,113 512.8,114 520.2,117.6 527.8,118.1 535.1,119.6 542.9,118.1 550,118.1 557.8,117.6 563.6,110.5 571.2,103.4 578.8,99.9 586.4,99.4 593.9,96.4 600,91.5 607,90 614.6,90.6 622,90 629.6,87.6 637,86 644.6,86.6 651,88 658,90 665.6,93 673,98 680.4,105 688,112 694.4,120 701.6,130 709,139 717,146 724,152 731.6,159 738,165 745.4,169 752.4,173 760,176 767.6,181 774,190 782,204 788.4,215 796,227 803.6,236 811,246 818.6,257 825,264 832,270 839.6,273 847,270 854.6,269 862,269 868,269 875.6,267 883,265.6 890.4,265 897,259 905.4,258.4 912,257 919.4,254.4 926.6,251.6 934,248 941.4,245 949,242 956.6,240 962.6,237 970,236 977.6,237.6 985,242 992.6,248 1000,251 1006,255 1013.6,264 1021,276 1028.6,286 1036,296 1043.6,302 1049.6,308 1057,310 1064.6,313 1072,316 1079.4,320 1087,323.6 1093,324.4 1100.6,325 1108,325 1115.4,328 1123,331 1130.4,334 1136.6,335.6 1144,336 1151.4,336 1159,336.4 1166.4,337 1174,337.6 1180,338 1187.4,339 1195,340 1203,348 1210.4,354.6 1217.6,359 1224,363.4 1231.6,368.2 1238.5,372.6 1245.9,379.1 1253.5,381.5 1260.9,382.9 1267.5,383.9 1274.9,381.9 1282.3,379.9 1289.5,378.9 1297.5,377.9 1304.8,379.9 1311.8,380.9 1318.2,384.9 1325.8,391.9 1333.2,399.9 1340.8,409.9 1348.2,419.9 1355.8,433.9 1361.8,445.9 1369.4,454.8 1376.7,458.8 1384.1,461.8 1391.7,465.4 1399.3,465.4 1405.3,465.8 1412.7,464.8 1420.1,462.8 1427.7,460.8 1435.3,455.8 1441.7,448.8" fill="none" stroke="#ffff00" stroke-width="1.3" stroke-linejoin="round" />
<polyline points="5.6,122 13,118 20.6,118.6 26.6,117.6 34,119 41.4,128 49,138 56.6,147 64,156 70,162 77.6,157 85,149.6 92.4,140 99.6,131 107.4,120 113.6,117 121,114.4 128.4,126 136,142 143.4,155 151,170 157,197 164.4,208 172,215 179.4,229 187,232.6 194,228 202,224 208,218 215.6,209 223,198 230.4,186 238,172 245.4,156 251.6,144 259,136 266.4,129 274,126.4 281.4,125 289,115 295,102 299,98.6 305.1,91.5 310.3,84.4 317.2,79.9 325.5,84.4 332.8,89.5 339.4,91.5 346.5,92.5 353.5,95.1 357.6,102.6 363.6,111.7 369.7,117.3 376.3,119.8 382.8,118.3 389.9,114.2 393.4,104.6 396,94.5 400,83.4 404.1,77.9 410.1,74.8 416.2,72.8 425.3,72.5 429.3,76.4 434.4,83.4 440.4,90.5 444.5,92.5 449,95.4 455.6,97.4 463.1,98.4 469.2,103.9 476.5,105.5 484.2,107.5 491.7,112.5 496.5,120.6 499.2,124.1 506.8,121.1 512.8,120.6 520.2,125.2 527.8,122.6 535.1,116.6 542.9,113 550,115.1 554.1,110.5 557.8,104.4 563.6,97.4 571.2,91.3 578.8,87.3 586.4,84.7 593.9,87.8 600,87.6 607,88 614.6,91 622,91 629.6,88 637,86.4 644.6,86 651,85.6 658,90 665.6,97 673,108 680.4,126 688,140 694.4,152 701.6,163 709,165 717,164 724,165 731.6,165 738,168 745.4,172 752.4,178 760,186 767.6,194 774,206 778,222 782,236 788.4,250 796,268 802,281 811,279.6 818.6,283 825,281 832,274 839.6,267 847,261 854.6,257 862,258 868,268 875.6,268 883,271 890.4,270 897,260 901,253 905.4,248 912,245 919.4,241 926.6,238 934,239 941.4,240 949,240 956.6,238.4 962.6,236 970,235 977.6,237 985,244 992.6,254 1000,264 1006,276 1013.6,292 1021,308 1028.6,319 1036,327 1043.6,329 1049.6,326 1057,316 1064.6,309 1072,306 1079.4,311 1087,324 1093,334 1100.6,340 1108,344 1115.4,345.6 1123,343 1130.4,336 1136.6,330 1144,326 1151.4,326 1159,329 1166.4,333 1174,338 1180,345 1187.4,350 1195,353 1203,360 1210.4,368 1217.6,370 1224,376.9 1231.6,384.9 1238.5,388.9 1245.9,390.9 1253.5,388.9 1260.9,390.9 1267.5,382.9 1274.9,376.9 1282.3,373 1289.5,370 1297.5,372 1304.8,375.9 1311.8,382.9 1318.2,393.9 1325.8,409.9 1333.2,427.9 1340.8,445.9 1348.2,463.8 1355.8,477.8 1361.8,481.8 1369.4,482.2 1376.7,473.8 1384.1,463.8 1391.7,454.8 1399.3,448.8 1405.3,447.8 1412.7,455.8 1420.1,459.8 1427.7,460.8 1435.3,459.8 1440.7,451.8" fill="none" stroke="#ffffff" stroke-width="1.25" stroke-linejoin="round" />
<polyline points="1223,159.5 1250,164 1280,168.5 1315,175 1348,182.5 1380,190 1410,197 1442,203.6" fill="none" stroke="#00d800" stroke-width="1.35" stroke-linejoin="round" />
</g>
<g clip-path="url(#cm)">
<path d="M3.7 95.6 L8.3 95.6 L8.3 102.5 L12.7 102.5 L6 109.9 L-0.7 102.5 L3.7 102.5 Z" fill="none" stroke="#00e000" stroke-width="1.6" stroke-linejoin="miter"/>
<path d="M18.7 95.2 L23.3 95.2 L23.3 102.1 L27.7 102.1 L21 109.5 L14.3 102.1 L18.7 102.1 Z" fill="none" stroke="#00e000" stroke-width="1.6" stroke-linejoin="miter"/>
<path d="M111.7 82.6 L116.3 82.6 L116.3 89.5 L120.7 89.5 L114 96.9 L107.3 89.5 L111.7 89.5 Z" fill="none" stroke="#00e000" stroke-width="1.6" stroke-linejoin="miter"/>
<path d="M272.2 98.6 L276.8 98.6 L276.8 105.5 L281.2 105.5 L274.5 112.9 L267.8 105.5 L272.2 105.5 Z" fill="none" stroke="#00e000" stroke-width="1.6" stroke-linejoin="miter"/>
<path d="M308.2 51.9 L312.8 51.9 L312.8 58.8 L317.2 58.8 L310.5 66.2 L303.8 58.8 L308.2 58.8 Z" fill="none" stroke="#00e000" stroke-width="1.6" stroke-linejoin="miter"/>
<path d="M410.2 43.3 L414.8 43.3 L414.8 50.2 L419.2 50.2 L412.5 57.6 L405.8 50.2 L410.2 50.2 Z" fill="none" stroke="#00e000" stroke-width="1.6" stroke-linejoin="miter"/>
<path d="M584.2 54.7 L588.8 54.7 L588.8 61.6 L593.2 61.6 L586.5 69 L579.8 61.6 L584.2 61.6 Z" fill="none" stroke="#00e000" stroke-width="1.6" stroke-linejoin="miter"/>
<path d="M642.7 50.6 L647.3 50.6 L647.3 57.5 L651.7 57.5 L645 64.9 L638.3 57.5 L642.7 57.5 Z" fill="none" stroke="#00e000" stroke-width="1.6" stroke-linejoin="miter"/>
<path d="M917.2 212.6 L921.8 212.6 L921.8 219.5 L926.2 219.5 L919.5 226.9 L912.8 219.5 L917.2 219.5 Z" fill="none" stroke="#00e000" stroke-width="1.6" stroke-linejoin="miter"/>
<path d="M968.2 205.6 L972.8 205.6 L972.8 212.5 L977.2 212.5 L970.5 219.9 L963.8 212.5 L968.2 212.5 Z" fill="none" stroke="#00e000" stroke-width="1.6" stroke-linejoin="miter"/>
<path d="M63 162 L66 162 L72 168.5 L72 170.5 L67.5 170.5 L67.5 179 L61.5 179 L61.5 170.5 L57 170.5 L57 168.5 Z" fill="#ff0000"/>
<path d="M186 246 L189 246 L195 252.5 L195 254.5 L190.5 254.5 L190.5 263 L184.5 263 L184.5 254.5 L180 254.5 L180 252.5 Z" fill="#ff0000"/>
<path d="M375 123 L378 123 L384 129.5 L384 131.5 L379.5 131.5 L379.5 140 L373.5 140 L373.5 131.5 L369 131.5 L369 129.5 Z" fill="#ff0000"/>
<path d="M483 112 L486 112 L492 118.5 L492 120.5 L487.5 120.5 L487.5 129 L481.5 129 L481.5 120.5 L477 120.5 L477 118.5 Z" fill="#ff0000"/>
<path d="M513 123 L516 123 L522 129.5 L522 131.5 L517.5 131.5 L517.5 140 L511.5 140 L511.5 131.5 L507 131.5 L507 129.5 Z" fill="#ff0000"/>
<path d="M708 183 L711 183 L717 189.5 L717 191.5 L712.5 191.5 L712.5 200 L706.5 200 L706.5 191.5 L702 191.5 L702 189.5 Z" fill="#ff0000"/>
<path d="M802.5 288 L805.5 288 L811.5 294.5 L811.5 296.5 L807 296.5 L807 305 L801 305 L801 296.5 L796.5 296.5 L796.5 294.5 Z" fill="#ff0000"/>
<path d="M1042.5 349 L1045.5 349 L1051.5 355.5 L1051.5 357.5 L1047 357.5 L1047 366 L1041 366 L1041 357.5 L1036.5 357.5 L1036.5 355.5 Z" fill="#ff0000"/>
<path d="M1099.5 355 L1102.5 355 L1108.5 361.5 L1108.5 363.5 L1104 363.5 L1104 372 L1098 372 L1098 363.5 L1093.5 363.5 L1093.5 361.5 Z" fill="#ff0000"/>
<path d="M1194 367.3 L1197 367.3 L1203 373.8 L1203 375.8 L1198.5 375.8 L1198.5 384.3 L1192.5 384.3 L1192.5 375.8 L1188 375.8 L1188 373.8 Z" fill="#ff0000"/>
<path d="M1245 411.5 L1248 411.5 L1254 418 L1254 420 L1249.5 420 L1249.5 428.5 L1243.5 428.5 L1243.5 420 L1239 420 L1239 418 Z" fill="#ff0000"/>
<path d="M1368 514.6 L1371 514.6 L1377 521.1 L1377 523.1 L1372.5 523.1 L1372.5 531.6 L1366.5 531.6 L1366.5 523.1 L1362 523.1 L1362 521.1 Z" fill="#ff0000"/>
<path d="M1374.5 348.8 L1380.5 348.8 L1380.5 357.3 L1385 357.3 L1385 359.3 L1379 365.3 L1376 365.3 L1370 359.3 L1370 357.3 L1374.5 357.3 Z" fill="#00e000"/>
</g>
<line x1="3" y1="372.6" x2="1467" y2="372.6" stroke="#ffff00" stroke-width="1.8"/>
<rect x="1087" y="367.8" width="9.6" height="8.6" fill="#ffffff"/>
<g font-family="'Liberation Sans', sans-serif" font-size="18" fill="#c8c8c8">
<text x="426" y="57.2">1918.22</text>
<text x="1274.5" y="521">1184.91</text>
</g>
<g stroke="#c8c8c8" stroke-width="1.4" fill="none">
<path d="M424 49.5 L416 49.5 L408 42 M413 42 L407.5 41.5 L408.5 46.5"/>
<path d="M1337 512.6 L1366.5 512.6 M1358 507.6 L1366.5 512.6 L1358 517.6"/>
</g>
<rect x="1436" y="426.6" width="31.5" height="2.2" fill="#b4b4b4"/>
<g clip-path="url(#cm)"><text x="1440.5" y="450" font-family="'Liberation Sans', sans-serif" font-size="18" fill="#c8c8c8">1311.43</text></g>
<rect x="2.9" y="645" width="4.7" height="67.6" fill="#ff3232"/>
<rect x="10.4" y="654" width="4.7" height="58.6" fill="#ff3232"/>
<rect x="17.9" y="645" width="4.7" height="67.6" fill="#54ffff"/>
<rect x="23.9" y="637.6" width="4.7" height="75" fill="#ff3232"/>
<rect x="31.4" y="648" width="4.7" height="64.6" fill="#54ffff"/>
<rect x="38.9" y="634.6" width="4.7" height="78" fill="#54ffff"/>
<rect x="46.4" y="649.6" width="4.7" height="63" fill="#ff3232"/>
<rect x="53.9" y="636" width="4.7" height="76.6" fill="#ff3232"/>
<rect x="61.4" y="655.6" width="4.7" height="57" fill="#ff3232"/>
<rect x="67.4" y="649.6" width="4.7" height="63" fill="#54ffff"/>
<rect x="74.9" y="631.6" width="4.7" height="81" fill="#ff3232"/>
<rect x="82.4" y="646.6" width="4.7" height="66" fill="#ff3232"/>
<rect x="89.9" y="607.6" width="4.7" height="105" fill="#ff3232"/>
<rect x="97.4" y="597.4" width="4.7" height="115.2" fill="#54ffff"/>
<rect x="104.9" y="631.6" width="4.7" height="81" fill="#ff3232"/>
<rect x="110.9" y="627" width="4.7" height="85.6" fill="#54ffff"/>
<rect x="118.4" y="643.6" width="4.7" height="69" fill="#54ffff"/>
<rect x="125.9" y="626" width="4.7" height="86.6" fill="#54ffff"/>
<rect x="133.4" y="625.6" width="4.7" height="87" fill="#54ffff"/>
<rect x="140.9" y="634" width="4.7" height="78.6" fill="#ff3232"/>
<rect x="148.4" y="651" width="4.7" height="61.6" fill="#ff3232"/>
<rect x="154.4" y="628" width="4.7" height="84.6" fill="#54ffff"/>
<rect x="161.9" y="625.6" width="4.7" height="87" fill="#54ffff"/>
<rect x="169.4" y="624" width="4.7" height="88.6" fill="#ff3232"/>
<rect x="176.9" y="619.6" width="4.7" height="93" fill="#54ffff"/>
<rect x="184.4" y="636" width="4.7" height="76.6" fill="#ff3232"/>
<rect x="191.9" y="642" width="4.7" height="70.6" fill="#54ffff"/>
<rect x="199.4" y="661.6" width="4.7" height="51" fill="#54ffff"/>
<rect x="205.4" y="651" width="4.7" height="61.6" fill="#ff3232"/>
<rect x="212.9" y="644" width="4.7" height="68.6" fill="#54ffff"/>
<rect x="220.4" y="619.6" width="4.7" height="93" fill="#ff3232"/>
<rect x="227.9" y="603" width="4.7" height="109.6" fill="#ff3232"/>
<rect x="235.4" y="609" width="4.7" height="103.6" fill="#ff3232"/>
<rect x="242.9" y="603" width="4.7" height="109.6" fill="#ff3232"/>
<rect x="248.9" y="608" width="4.7" height="104.6" fill="#54ffff"/>
<rect x="256.4" y="628" width="4.7" height="84.6" fill="#ff3232"/>
<rect x="263.9" y="614.4" width="4.7" height="98.2" fill="#54ffff"/>
<rect x="271.4" y="628.6" width="4.7" height="84" fill="#54ffff"/>
<rect x="278.9" y="631.6" width="4.7" height="81" fill="#ff3232"/>
<rect x="286.4" y="576" width="4.7" height="136.6" fill="#ff3232"/>
<rect x="292.4" y="568.6" width="4.7" height="144" fill="#ff3232"/>
<rect x="299.9" y="592.4" width="4.7" height="120.2" fill="#54ffff"/>
<rect x="307.4" y="612" width="4.7" height="100.6" fill="#54ffff"/>
<rect x="314.9" y="621" width="4.7" height="91.6" fill="#ff3232"/>
<rect x="322.4" y="631.6" width="4.7" height="81" fill="#54ffff"/>
<rect x="329.9" y="622.4" width="4.7" height="90.2" fill="#ff3232"/>
<rect x="335.9" y="613.6" width="4.7" height="99" fill="#ff3232"/>
<rect x="343.4" y="600" width="4.7" height="112.6" fill="#54ffff"/>
<rect x="350.9" y="621" width="4.7" height="91.6" fill="#54ffff"/>
<rect x="358.4" y="580.6" width="4.7" height="132" fill="#54ffff"/>
<rect x="365.9" y="615" width="4.7" height="97.6" fill="#ff3232"/>
<rect x="373.4" y="589.6" width="4.7" height="123" fill="#ff3232"/>
<rect x="379.4" y="585" width="4.7" height="127.6" fill="#ff3232"/>
<rect x="386.9" y="600" width="4.7" height="112.6" fill="#54ffff"/>
<rect x="394.4" y="577.6" width="4.7" height="135" fill="#ff3232"/>
<rect x="401.9" y="568.6" width="4.7" height="144" fill="#54ffff"/>
<rect x="409.4" y="592" width="4.7" height="120.6" fill="#ff3232"/>
<rect x="416.9" y="600" width="4.7" height="112.6" fill="#54ffff"/>
<rect x="422.9" y="609" width="4.7" height="103.6" fill="#ff3232"/>
<rect x="430.4" y="597" width="4.7" height="115.6" fill="#54ffff"/>
<rect x="437.9" y="604.4" width="4.7" height="108.2" fill="#54ffff"/>
<rect x="445.4" y="615" width="4.7" height="97.6" fill="#54ffff"/>
<rect x="452.9" y="616.4" width="4.7" height="96.2" fill="#54ffff"/>
<rect x="460.4" y="604.4" width="4.7" height="108.2" fill="#ff3232"/>
<rect x="466.4" y="600" width="4.7" height="112.6" fill="#54ffff"/>
<rect x="473.9" y="591" width="4.7" height="121.6" fill="#ff3232"/>
<rect x="481.4" y="597" width="4.7" height="115.6" fill="#ff3232"/>
<rect x="488.9" y="598.4" width="4.7" height="114.2" fill="#54ffff"/>
<rect x="496.4" y="612" width="4.7" height="100.6" fill="#54ffff"/>
<rect x="503.9" y="607.4" width="4.7" height="105.2" fill="#ff3232"/>
<rect x="511.4" y="606" width="4.7" height="106.6" fill="#ff3232"/>
<rect x="517.4" y="612" width="4.7" height="100.6" fill="#54ffff"/>
<rect x="524.9" y="618" width="4.7" height="94.6" fill="#ff3232"/>
<rect x="532.4" y="619.6" width="4.7" height="93" fill="#54ffff"/>
<rect x="539.9" y="615" width="4.7" height="97.6" fill="#ff3232"/>
<rect x="547.4" y="627" width="4.7" height="85.6" fill="#54ffff"/>
<rect x="554.9" y="616.4" width="4.7" height="96.2" fill="#ff3232"/>
<rect x="560.9" y="618" width="4.7" height="94.6" fill="#ff3232"/>
<rect x="568.4" y="616.4" width="4.7" height="96.2" fill="#ff3232"/>
<rect x="575.9" y="606" width="4.7" height="106.6" fill="#ff3232"/>
<rect x="583.4" y="610.4" width="4.7" height="102.2" fill="#54ffff"/>
<rect x="590.9" y="619.4" width="4.7" height="93.2" fill="#54ffff"/>
<rect x="598.4" y="625.6" width="4.7" height="87" fill="#ff3232"/>
<rect x="604.4" y="625.6" width="4.7" height="87" fill="#54ffff"/>
<rect x="611.9" y="631.6" width="4.7" height="81" fill="#54ffff"/>
<rect x="619.4" y="631.6" width="4.7" height="81" fill="#ff3232"/>
<rect x="626.9" y="609" width="4.7" height="103.6" fill="#ff3232"/>
<rect x="634.4" y="612" width="4.7" height="100.6" fill="#ff3232"/>
<rect x="641.9" y="607.6" width="4.7" height="105" fill="#54ffff"/>
<rect x="647.9" y="622.4" width="4.7" height="90.2" fill="#54ffff"/>
<rect x="655.4" y="615" width="4.7" height="97.6" fill="#54ffff"/>
<rect x="662.9" y="619.6" width="4.7" height="93" fill="#54ffff"/>
<rect x="670.4" y="619.6" width="4.7" height="93" fill="#54ffff"/>
<rect x="677.9" y="607.6" width="4.7" height="105" fill="#54ffff"/>
<rect x="685.4" y="625.6" width="4.7" height="87" fill="#ff3232"/>
<rect x="691.4" y="630" width="4.7" height="82.6" fill="#54ffff"/>
<rect x="698.9" y="639" width="4.7" height="73.6" fill="#54ffff"/>
<rect x="706.4" y="630" width="4.7" height="82.6" fill="#ff3232"/>
<rect x="713.9" y="630" width="4.7" height="82.6" fill="#54ffff"/>
<rect x="721.4" y="631.6" width="4.7" height="81" fill="#54ffff"/>
<rect x="728.9" y="633" width="4.7" height="79.6" fill="#54ffff"/>
<rect x="734.9" y="642" width="4.7" height="70.6" fill="#54ffff"/>
<rect x="742.4" y="636" width="4.7" height="76.6" fill="#ff3232"/>
<rect x="749.9" y="637.6" width="4.7" height="75" fill="#54ffff"/>
<rect x="757.4" y="645" width="4.7" height="67.6" fill="#54ffff"/>
<rect x="764.9" y="630" width="4.7" height="82.6" fill="#54ffff"/>
<rect x="772.4" y="613.6" width="4.7" height="99" fill="#54ffff"/>
<rect x="778.4" y="619.6" width="4.7" height="93" fill="#ff3232"/>
<rect x="785.9" y="622.4" width="4.7" height="90.2" fill="#54ffff"/>
<rect x="793.4" y="630" width="4.7" height="82.6" fill="#ff3232"/>
<rect x="800.9" y="634.4" width="4.7" height="78.2" fill="#54ffff"/>
<rect x="808.4" y="624" width="4.7" height="88.6" fill="#ff3232"/>
<rect x="815.9" y="624" width="4.7" height="88.6" fill="#54ffff"/>
<rect x="823.4" y="628.6" width="4.7" height="84" fill="#54ffff"/>
<rect x="829.4" y="609" width="4.7" height="103.6" fill="#ff3232"/>
<rect x="836.9" y="610.4" width="4.7" height="102.2" fill="#54ffff"/>
<rect x="844.4" y="603" width="4.7" height="109.6" fill="#ff3232"/>
<rect x="851.9" y="618" width="4.7" height="94.6" fill="#54ffff"/>
<rect x="859.4" y="627" width="4.7" height="85.6" fill="#54ffff"/>
<rect x="866.9" y="610.4" width="4.7" height="102.2" fill="#ff3232"/>
<rect x="872.9" y="625.6" width="4.7" height="87" fill="#ff3232"/>
<rect x="880.4" y="622.4" width="4.7" height="90.2" fill="#ff3232"/>
<rect x="887.9" y="607.6" width="4.7" height="105" fill="#ff3232"/>
<rect x="895.4" y="585" width="4.7" height="127.6" fill="#ff3232"/>
<rect x="902.9" y="597" width="4.7" height="115.6" fill="#ff3232"/>
<rect x="910.4" y="607.6" width="4.7" height="105" fill="#ff3232"/>
<rect x="916.4" y="613.6" width="4.7" height="99" fill="#ff3232"/>
<rect x="923.9" y="606" width="4.7" height="106.6" fill="#54ffff"/>
<rect x="931.4" y="618" width="4.7" height="94.6" fill="#54ffff"/>
<rect x="938.9" y="621" width="4.7" height="91.6" fill="#ff3232"/>
<rect x="946.4" y="604.4" width="4.7" height="108.2" fill="#ff3232"/>
<rect x="953.9" y="595.6" width="4.7" height="117" fill="#ff3232"/>
<rect x="959.9" y="601.6" width="4.7" height="111" fill="#ff3232"/>
<rect x="967.4" y="592.4" width="4.7" height="120.2" fill="#54ffff"/>
<rect x="974.9" y="612" width="4.7" height="100.6" fill="#54ffff"/>
<rect x="982.4" y="621" width="4.7" height="91.6" fill="#54ffff"/>
<rect x="989.9" y="637.6" width="4.7" height="75" fill="#ff3232"/>
<rect x="997.4" y="628.6" width="4.7" height="84" fill="#54ffff"/>
<rect x="1003.4" y="613.6" width="4.7" height="99" fill="#54ffff"/>
<rect x="1010.9" y="642" width="4.7" height="70.6" fill="#54ffff"/>
<rect x="1018.4" y="639" width="4.7" height="73.6" fill="#54ffff"/>
<rect x="1025.9" y="634.4" width="4.7" height="78.2" fill="#ff3232"/>
<rect x="1033.4" y="633" width="4.7" height="79.6" fill="#54ffff"/>
<rect x="1040.9" y="615" width="4.7" height="97.6" fill="#ff3232"/>
<rect x="1046.9" y="633" width="4.7" height="79.6" fill="#ff3232"/>
<rect x="1054.4" y="631.6" width="4.7" height="81" fill="#ff3232"/>
<rect x="1061.9" y="636" width="4.7" height="76.6" fill="#54ffff"/>
<rect x="1069.4" y="631.6" width="4.7" height="81" fill="#54ffff"/>
<rect x="1076.9" y="634.4" width="4.7" height="78.2" fill="#ff3232"/>
<rect x="1084.4" y="639" width="4.7" height="73.6" fill="#54ffff"/>
<rect x="1090.4" y="636" width="4.7" height="76.6" fill="#ff3232"/>
<rect x="1097.9" y="636" width="4.7" height="76.6" fill="#ff3232"/>
<rect x="1105.4" y="636" width="4.7" height="76.6" fill="#54ffff"/>
<rect x="1112.9" y="637.6" width="4.7" height="75" fill="#ff3232"/>
<rect x="1120.4" y="645" width="4.7" height="67.6" fill="#54ffff"/>
<rect x="1127.9" y="627" width="4.7" height="85.6" fill="#ff3232"/>
<rect x="1135.4" y="634.4" width="4.7" height="78.2" fill="#54ffff"/>
<rect x="1141.4" y="640.6" width="4.7" height="72" fill="#54ffff"/>
<rect x="1148.9" y="637.6" width="4.7" height="75" fill="#54ffff"/>
<rect x="1156.4" y="645" width="4.7" height="67.6" fill="#54ffff"/>
<rect x="1163.9" y="639" width="4.7" height="73.6" fill="#ff3232"/>
<rect x="1171.4" y="627" width="4.7" height="85.6" fill="#ff3232"/>
<rect x="1178.9" y="627" width="4.7" height="85.6" fill="#54ffff"/>
<rect x="1184.9" y="631.6" width="4.7" height="81" fill="#54ffff"/>
<rect x="1192.4" y="624" width="4.7" height="88.6" fill="#54ffff"/>
<rect x="1199.9" y="633" width="4.7" height="79.6" fill="#54ffff"/>
<rect x="1207.4" y="640.6" width="4.7" height="72" fill="#ff3232"/>
<rect x="1214.9" y="642" width="4.7" height="70.6" fill="#54ffff"/>
<rect x="1222.4" y="630" width="4.7" height="82.6" fill="#54ffff"/>
<rect x="1228.4" y="628.6" width="4.7" height="84" fill="#54ffff"/>
<rect x="1235.9" y="639" width="4.7" height="73.6" fill="#54ffff"/>
<rect x="1243.4" y="631.6" width="4.7" height="81" fill="#ff3232"/>
<rect x="1250.9" y="616.6" width="4.7" height="96" fill="#ff3232"/>
<rect x="1258.4" y="630" width="4.7" height="82.6" fill="#54ffff"/>
<rect x="1265.9" y="622.4" width="4.7" height="90.2" fill="#ff3232"/>
<rect x="1271.9" y="646.6" width="4.7" height="66" fill="#ff3232"/>
<rect x="1279.4" y="627" width="4.7" height="85.6" fill="#ff3232"/>
<rect x="1286.9" y="618" width="4.7" height="94.6" fill="#54ffff"/>
<rect x="1294.4" y="637.6" width="4.7" height="75" fill="#ff3232"/>
<rect x="1301.9" y="639" width="4.7" height="73.6" fill="#54ffff"/>
<rect x="1309.4" y="649.6" width="4.7" height="63" fill="#54ffff"/>
<rect x="1315.4" y="646.6" width="4.7" height="66" fill="#54ffff"/>
<rect x="1322.9" y="607.6" width="4.7" height="105" fill="#54ffff"/>
<rect x="1330.4" y="616.6" width="4.7" height="96" fill="#ff3232"/>
<rect x="1337.9" y="637.6" width="4.7" height="75" fill="#54ffff"/>
<rect x="1345.4" y="633" width="4.7" height="79.6" fill="#54ffff"/>
<rect x="1352.9" y="622.4" width="4.7" height="90.2" fill="#ff3232"/>
<rect x="1358.9" y="625.6" width="4.7" height="87" fill="#54ffff"/>
<rect x="1366.4" y="616.6" width="4.7" height="96" fill="#ff3232"/>
<rect x="1373.9" y="583.6" width="4.7" height="129" fill="#ff3232"/>
<rect x="1381.4" y="604.4" width="4.7" height="108.2" fill="#54ffff"/>
<rect x="1388.9" y="624" width="4.7" height="88.6" fill="#54ffff"/>
<rect x="1396.4" y="622.4" width="4.7" height="90.2" fill="#ff3232"/>
<rect x="1402.4" y="631.6" width="4.7" height="81" fill="#54ffff"/>
<rect x="1409.9" y="642" width="4.7" height="70.6" fill="#54ffff"/>
<rect x="1417.4" y="627" width="4.7" height="85.6" fill="#ff3232"/>
<rect x="1424.9" y="625.6" width="4.7" height="87" fill="#ff3232"/>
<rect x="1432.4" y="598.4" width="4.7" height="114.2" fill="#54ffff"/>
<rect x="1439.9" y="580.6" width="4.7" height="132" fill="#ff3232"/>
<polyline points="5.2,653.6 12.8,653.6 20.2,651 26.2,649.6 33.8,649.6 41.2,647.6 48.8,647 56.2,646 63.8,647 69.8,646 77.2,645 84.8,644 92.2,640 99.8,637 107.2,635 113.2,633.6 120.8,633.6 128.2,632 135.8,629 143.2,627.6 150.8,628 156.8,627.6 164.2,630 171.8,632 179.2,631 186.8,632 194.2,632.4 201.8,636 207.8,638 215.2,639.6 222.8,637 230.2,634 237.8,632 245.2,630 251.2,629.6 258.8,628 266.2,625 273.8,622 281.2,621 288.8,615 294.8,609 302.2,606 309.8,606.3 317.2,608.1 324.8,610.4 332.2,609.9 338.2,609.8 345.8,606.9 353.2,605.9 360.8,606.3 368.2,611 375.8,610.7 381.8,608 389.2,605.9 396.8,600.5 404.2,595.1 411.8,592.9 419.2,592.9 425.2,591.7 432.8,593.4 440.2,592.3 447.8,594.9 455.2,598 462.8,598.4 468.8,600.7 476.2,602.9 483.8,603.4 491.2,603.3 498.8,603.6 506.2,604.6 513.8,604.8 519.8,604.5 527.2,604.6 534.8,606.1 542.2,607.6 549.8,611.2 557.2,613.2 563.2,615.1 570.8,615.6 578.2,615.4 585.8,615.9 593.2,616.6 600.8,617.4 606.8,618 614.2,619.6 621.8,620.1 629.2,619.4 636.8,618.8 644.2,617.9 650.2,619.5 657.8,620 665.2,620 672.8,619.4 680.2,617.6 687.8,617 693.8,616.8 701.2,619.8 708.8,621.6 716.2,623.9 723.8,624.8 731.2,626.6 737.2,628.8 744.8,630.5 752.2,633.5 759.8,635.4 767.2,635.4 774.8,632.9 780.8,631.8 788.2,631.1 795.8,630.9 803.2,631.1 810.8,629.3 818.2,628.1 825.8,627.2 831.8,623.6 839.2,621.6 846.8,620.5 854.2,620.4 861.8,620.8 869.2,618.9 875.2,618 882.8,617.8 890.2,616.2 897.8,611.8 905.2,610.6 912.8,610.4 918.8,611.4 926.2,610.2 933.8,609.3 941.2,610.4 948.8,608.3 956.2,605.6 962.2,605 969.8,605.7 977.2,607.2 984.8,608.6 992.2,611 999.8,613.2 1005.8,612.8 1013.2,614.9 1020.8,618.3 1028.2,622.2 1035.8,625.4 1043.2,627.6 1049.2,629.7 1056.8,630.8 1064.2,630.6 1071.8,630.9 1079.2,633 1086.8,632.7 1092.8,632.4 1100.2,632.6 1107.8,632.9 1115.2,635.1 1122.8,636.3 1130.2,635.9 1137.8,635.7 1143.8,636.6 1151.2,636.9 1158.8,637.5 1166.2,637.8 1173.8,636.9 1181.2,636 1187.2,635.4 1194.8,633.3 1202.2,633.9 1209.8,634.5 1217.2,634.7 1224.8,633.9 1230.8,632.3 1238.2,632.3 1245.8,632.7 1253.2,631.7 1260.8,631.5 1268.2,631.4 1274.2,632.7 1281.8,631.4 1289.2,629 1296.8,629.7 1304.2,630.8 1311.8,631.8 1317.8,633.3 1325.2,632.4 1332.8,631.1 1340.2,632.6 1347.8,631.3 1355.2,630.8 1361.2,631.6 1368.8,629.5 1376.2,623.9 1383.8,619.4 1391.2,617.1 1398.8,618.6 1404.8,620.1 1412.2,620.6 1419.8,620 1427.2,620.3 1434.8,617.6 1442.2,614" fill="none" stroke="#ffff00" stroke-width="1.3" stroke-linejoin="round" />
<polyline points="5.2,650 12.8,649 20.2,649 26.2,647 33.8,648 41.2,644 48.8,645 56.2,642 63.8,645 69.8,646 77.2,645 84.8,644 92.2,638 99.8,627 107.2,623 113.2,623 120.8,621.6 128.2,626 135.8,630 143.2,632 150.8,636 156.8,633.6 164.2,633.6 171.8,633.6 179.2,631 186.8,627.6 194.2,630 201.8,637 207.8,644 215.2,647 222.8,643 230.2,634 237.8,624 245.2,615 251.2,609 258.8,611 266.2,614.4 273.8,617 281.2,623 288.8,617 294.8,605 302.2,599.4 309.8,596.1 317.2,594 324.8,605.1 332.2,615.9 338.2,620.1 345.8,617.7 353.2,617.7 360.8,607.5 368.2,606 375.8,601.2 381.8,598.2 389.2,594 396.8,593.4 404.2,584.2 411.8,584.6 419.2,587.6 425.2,589.4 432.8,593.3 440.2,600.5 447.8,605.1 455.2,608.4 462.8,607.4 468.8,608 476.2,605.4 483.8,601.8 491.2,598.2 498.8,599.7 506.2,601.2 513.8,604.2 519.8,607.2 527.2,611.1 534.8,612.6 542.2,614.1 549.8,618.3 557.2,619.2 563.2,619.2 570.8,618.6 578.2,616.8 585.8,613.4 593.2,614 600.8,615.6 606.8,617.4 614.2,622.5 621.8,626.8 629.2,624.7 636.8,622 644.2,618.4 650.2,616.5 657.8,613.2 665.2,615.3 672.8,616.8 680.2,616.8 687.8,617.5 693.8,620.5 701.2,624.4 708.8,626.4 716.2,630.9 723.8,632.1 731.2,632.7 737.2,633.3 744.8,634.5 752.2,636 759.8,638.7 767.2,638.1 774.8,632.4 780.8,629.2 788.2,626.1 795.8,623.1 803.2,624 810.8,626.1 818.2,627 825.8,628.2 831.8,624 839.2,619.2 846.8,615 854.2,613.8 861.8,613.5 869.2,613.8 875.2,616.8 882.8,620.7 890.2,618.6 897.8,610.2 905.2,607.5 912.8,603.9 918.8,602.2 926.2,601.8 933.8,608.4 941.2,613.2 948.8,612.6 956.2,609 962.2,608.1 969.8,603 977.2,601.2 984.8,604.5 992.2,612.9 999.8,618.3 1005.8,622.6 1013.2,628.6 1020.8,632.2 1028.2,631.5 1035.8,632.4 1043.2,632.7 1049.2,630.9 1056.8,629.4 1064.2,629.7 1071.8,629.4 1079.2,633.3 1086.8,634.5 1092.8,635.4 1100.2,635.4 1107.8,636.3 1115.2,636.9 1122.8,638.1 1130.2,636.3 1137.8,636 1143.8,636.9 1151.2,636.9 1158.8,636.9 1166.2,639.3 1173.8,637.8 1181.2,635.1 1187.2,633.9 1194.8,629.7 1202.2,628.5 1209.8,631.2 1217.2,634.2 1224.8,633.9 1230.8,634.8 1238.2,636 1245.8,634.2 1253.2,629.2 1260.8,629.2 1268.2,627.9 1274.2,629.4 1281.8,628.5 1289.2,628.8 1296.8,630.3 1304.2,633.6 1311.8,634.2 1317.8,638.2 1325.2,636.1 1332.8,631.9 1340.2,631.6 1347.8,628.3 1355.2,623.4 1361.2,627 1368.8,627 1376.2,616.2 1383.8,610.5 1391.2,610.8 1398.8,610.2 1404.8,613.2 1412.2,624.9 1419.8,629.4 1427.2,629.7 1434.8,624.9 1442.2,614.7" fill="none" stroke="#ffffff" stroke-width="1.25" stroke-linejoin="round" />
<g clip-path="url(#ck)">
<polyline points="5.6,805 13,797 20.6,792 26.6,789.4 34,790 41.4,798 49,808 56.6,816 64,821 70,824.6 77.6,824 85,821 92.4,814.6 99.6,809 107.4,804.6 113.6,803.4 121,804 128.4,810 136,820 143.4,828 151,836 157,842.6 164.4,846 172,847.4 179.4,850 187,848.6 194,845 202,841 208,832 215.6,821 223,810.6 230.4,802 238,795 245.4,788.6 251.6,785.4 259,782.6 266.4,781 274,780 281.4,779.4 289,778 295,777.4 302.6,780 310,783 317.6,787 325,794 332.4,800.6 338.4,803.4 346,809 353.4,817 361,824.6 368.6,828 376,823.4 382,819 389.4,812.6 397,804.6 404.4,798 412,794.6 419.6,794 425.6,794.6 433,799.4 440.6,808.6 448,818 455.6,826 463,831 469,836.6 476.6,838 484,835 491.4,834.6 499,836.6 506.6,834 512.6,830 520,826 527.4,822.6 535,818.6 542.4,812 550,806 557.4,799.4 563.4,792 571,787.4 578.4,784 586,783.4 593.4,787 601,787.4 607,791 614.6,798.6 622,804 629.6,804 637,800.6 644.6,800.6 651,804 658,813 665.6,822.6 673,833 680.4,840 688,845 694.4,849 701.6,851.4 709,851 717,849 724,847 731.6,846.6 738,848 745.4,846.6 752.4,847.4 760,850 767.6,852.6 775,854.6 781,855.4 788.4,857 796,857 803.6,856.6 811,854.6 818.6,853 825,851.4 832,843 839.6,833 847,823 854.6,818 862,818.6 868,822 875.6,821 883,817 890.4,815.4 898.6,810.6 905.4,804 912,797 919.4,792 926.6,790 934,792 941.4,793 949,792.6 956.6,791 962.6,790 970,794 977.6,802 985,813 992.6,824 1000,833 1006,839 1013.6,845 1021,850 1028.6,851.4 1036,854 1043.6,852 1049.6,847 1057,840 1064.6,831 1072,826.6 1079.4,826 1087,830 1093,833 1100.6,835 1108,836 1115.4,835.4 1123,834.6 1130.4,831.4 1136.6,823 1144,815 1151.4,811 1159,815 1166.4,819 1174,822 1180,826 1187.4,832 1195,837 1203,842.8 1210.4,847.8 1217.6,851.2 1224,852.8 1231.6,854.8 1238.5,857.2 1245.9,855.2 1253.5,850.8 1260.9,846.4 1267.5,832.8 1274.9,822.8 1282.3,813.9 1289.5,808.5 1297.5,805.9 1304.8,809.3 1311.8,816.9 1318.2,824.8 1325.8,832.4 1333.2,838.4 1340.8,843.2 1348.2,847.8 1355.8,850.8 1361.8,855.2 1369.4,851.2 1376.7,843.8 1384.1,834.8 1391.7,826.8 1399.3,820.8 1405.3,818.9 1412.7,817.9 1420.1,816.9 1427.7,814.9 1435.3,813.3 1441.7,809.3" fill="none" stroke="#ffff00" stroke-width="1.3" stroke-linejoin="round" />
<polyline points="5.6,785 13,781 20.6,785 26.6,782.6 34,790 41.4,813 49,828.6 56.6,829 64,831 70,833.6 77.6,822.6 85,813 92.4,802 99.6,798.6 107.4,795.4 113.6,798 121,806 128.4,822 136,838 143.4,844 151,851 157,856 164.4,854 172,850 179.4,853 187,844 194,838 202,833 208,815 215.6,801 223,791 230.4,786.6 238,782 245.4,777.4 251.6,781 259,778 266.4,777.4 274,778 281.4,778 289,776 295,776.6 302.6,781 310,792 317.6,796 325,808 332.4,812 338.4,808.6 346,817 353.4,831 361,842.6 368.6,833 376,816.6 382,807 389.4,799 397,789 404.4,785.4 412,788 419.6,793 425.6,796.6 433,811 440.6,824 448,834 455.6,840.6 463,841 469,851.4 476.6,841 484,829.4 491.4,832.6 499,837.4 506.6,829 512.6,816.6 520,820 527.4,816.6 535,812 542.4,801 550,796 557.4,787 563.4,781 571,778 578.4,775.4 586,783 593.4,791.4 601,788 607,797 614.6,812 622,817 629.6,805 637,793 644.6,801 651,811 658,830 665.6,841 673,851 680.4,856 688,854 694.4,857 701.6,859 709,850 717,845 724,842 731.6,845 738,851 745.4,843 752.4,850 760,855 767.6,857.4 775,859 781,856 788.4,860.6 796,856.6 803.6,855.4 811,850 818.6,850 825,849.4 832,825 839.6,814 847,802 854.6,805 862,821 868,829.4 875.6,818.6 883,809.4 890.4,813 898.6,798 905.4,790 912,786 919.4,781 926.6,785 934,796 941.4,796.6 949,792 956.6,789 962.6,788.6 970,801 977.6,818 985,834 992.6,843 1000,850 1006,852 1013.6,857 1021,861 1028.6,856 1036,857.4 1043.6,849 1049.6,839 1057,828 1064.6,812.6 1072,817 1079.4,824 1087,837 1093,841 1100.6,837 1108,838 1115.4,835 1123,833 1130.4,822 1136.6,804 1144,799 1151.4,802 1159,824 1166.4,828 1174,826 1180,835 1187.4,844 1195,849 1203,854.4 1210.4,856.4 1217.6,859.2 1224,853.8 1231.6,858.4 1238.5,862.4 1245.9,852.8 1253.5,841.8 1260.9,832.8 1267.5,810.9 1274.9,801.9 1282.3,795.3 1289.5,797.9 1297.5,795.3 1304.8,814.9 1311.8,830.8 1318.2,838.8 1325.8,848.4 1333.2,848.8 1340.8,852.8 1348.2,857.8 1355.8,855.8 1361.8,860.8 1369.4,847.8 1376.7,830.8 1384.1,818.9 1391.7,811.9 1399.3,810.5 1405.3,811.9 1412.7,815.9 1420.1,815.9 1427.7,811.9 1435.3,810.5 1441.7,798.5" fill="none" stroke="#ffffff" stroke-width="1.25" stroke-linejoin="round" />
<polyline points="5.6,744.6 13,750 20.6,770 26.6,766.6 34,791 41.4,833 49,871 56.6,856 64,850 70,851 77.6,824 85,807 92.4,775 99.6,777.4 107.4,778 113.6,790 121,807 128.4,841 136,874 143.4,876 151,879 157,884.6 164.4,871 172,856 179.4,861 187,839 194,827 202,816 208,782 215.6,766 223,753 230.4,753 238,756.6 245.4,753 251.6,767 259,766 266.4,767.4 274,776 281.4,777.4 289,770.6 295,773 302.6,782 310,805 317.6,816 325,838 332.4,834 338.4,817 346,833 353.4,866 361,877 368.6,842 376,804 382,788 389.4,776 397,760.6 404.4,758.6 412,767 419.6,787 425.6,796.6 433,824 440.6,851 448,868 455.6,874 463,865 469,878.6 476.6,841 484,818.6 491.4,833 499,846.6 506.6,819 512.6,794.6 520,810 527.4,803 535,797 542.4,777 550,773 557.4,760 563.4,754 571,758 578.4,756.6 586,783 593.4,802 601,788 607,807 614.6,840 622,842.6 629.6,802 637,777.4 644.6,801 651,825 658,864 665.6,879 673,887.4 680.4,889 688,874 694.4,875.4 701.6,873 709,849 717,836.6 724,833 731.6,844 738,858.6 745.4,835 752.4,852 760,863.4 767.6,869.4 775,869.4 781,860.6 788.4,868 796,856 803.6,854.6 811,842.6 818.6,844 825,844 832,794.6 839.6,778 847,758.6 854.6,781 862,820 868,841 875.6,813 883,794.6 890.4,808 898.6,779 905.4,765.4 912,762 919.4,758.6 926.6,773 934,802 941.4,800 949,790 956.6,784 962.6,783.4 970,809 977.6,841 985,871 992.6,880 1000,889 1006,878.6 1013.6,883 1021,880.6 1028.6,863 1036,866.6 1043.6,833 1049.6,813 1057,796 1064.6,776.6 1072,795 1079.4,821 1087,856 1093,854 1100.6,840 1108,843 1115.4,834.6 1123,834 1130.4,804 1136.6,771 1144,769 1151.4,788 1159,841 1166.4,845.4 1174,835 1180,853 1187.4,866 1195,870 1203,878.8 1210.4,872.4 1217.6,872.8 1224,858.8 1231.6,868.8 1238.5,871.2 1245.9,850.8 1253.5,827.8 1260.9,813.9 1267.5,770.9 1274.9,760.9 1282.3,755.3 1289.5,773.9 1297.5,776.9 1304.8,830.8 1311.8,861.8 1318.2,870.8 1325.8,880.4 1333.2,870.8 1340.8,872.4 1348.2,875.8 1355.8,869.8 1361.8,873.8 1369.4,848.8 1376.7,801.9 1384.1,782.9 1391.7,779.3 1399.3,786.9 1405.3,796.9 1412.7,810.5 1420.1,812.5 1427.7,806.9 1435.3,804.5 1443.1,774.9" fill="none" stroke="#ff00ff" stroke-width="1.3" stroke-linejoin="round" />
</g>
<g fill="#b00000">
<rect x="1467.2" y="11.5" width="2" height="704"/>
<rect x="3" y="538.6" width="1491" height="2"/>
</g>
<rect x="3" y="714" width="1465" height="2" fill="#980000"/>
<g fill="#c80000">
<rect x="1467.2" y="714" width="3.8" height="177"/>
<rect x="1467.2" y="714" width="27" height="3"/>
<rect x="1469" y="691.8" width="25" height="1.6"/>
</g>
<g fill="#b00000">
<rect x="1469" y="53.8" width="8.4" height="2"/>
<rect x="1469" y="85.6" width="4" height="1.6"/>
<rect x="1469" y="117" width="8.4" height="2"/>
<rect x="1469" y="149.3" width="4" height="1.6"/>
<rect x="1469" y="181.3" width="8.4" height="2"/>
<rect x="1469" y="213.7" width="4" height="1.6"/>
<rect x="1469" y="245.7" width="8.4" height="2"/>
<rect x="1469" y="277.4" width="4" height="1.6"/>
<rect x="1469" y="308.8" width="8.4" height="2"/>
<rect x="1469" y="341.3" width="4" height="1.6"/>
<rect x="1469" y="373.4" width="8.4" height="2"/>
<rect x="1469" y="405.8" width="4" height="1.6"/>
<rect x="1469" y="437.8" width="8.4" height="2"/>
<rect x="1469" y="469.5" width="4" height="1.6"/>
<rect x="1469" y="500.8" width="8.4" height="2"/>
<rect x="1469" y="597" width="8.4" height="2"/>
<rect x="1469" y="634.8" width="8.4" height="2"/>
<rect x="1469" y="673.4" width="8.4" height="2"/>
<rect x="1469" y="578.2" width="4" height="1.6"/>
<rect x="1469" y="616.2" width="4" height="1.6"/>
<rect x="1469" y="654.2" width="4" height="1.6"/>
</g>
<g fill="none" stroke="#b00000" stroke-width="1.7">
<path d="M1435.4 18.2 L1443.6 26.4 L1435.4 34.6 L1427.2 26.4 Z"/>
<rect x="1450.3" y="18.8" width="13.6" height="15.4"/>
<line x1="1459.5" y1="18.8" x2="1459.5" y2="34.2"/>
</g>
<g font-family="'Liberation Sans', sans-serif" font-size="18" fill="#f03232">
<text x="1488.2" y="604.6">6000</text>
<text x="1488.2" y="642.4">4000</text>
<text x="1488.2" y="681">2000</text>
<text x="1471.6" y="709.6">X10000</text>
<text x="1485" y="774">100.0</text>
</g>
<rect x="1471" y="788.3" width="23" height="22.5" fill="#0000c0"/>
<text x="1470.5" y="806.5" font-family="'Liberation Sans', sans-serif" font-size="18" fill="#e0e0e0">57.24</text>
<rect x="0" y="11" width="2.1" height="880" fill="#e4e4e4"/>
<path d="M2.4 449 L14 466 L14 510 L2.4 532 Z" fill="#3c3c3c" fill-opacity="0.9" stroke="#7c7c7c" stroke-width="1.4"/>
<path d="M3.4 481.6 L11 489 L3.4 496.5 Z" fill="#f0a000"/>
<g font-family="'Liberation Sans', 'Noto Sans CJK SC', sans-serif" font-size="18">
<text x="3" y="32.8" fill="#c4c4c4" font-size="18.2" font-weight="300">创业板指(日线.前复权)</text>
<text x="210.5" y="31.4" fill="#ffffff">MA5: 1284.12</text>
<text x="328.5" y="31.4" fill="#ffff00">MA10: 1284.85</text>
<text x="458.5" y="31.4" fill="#ff00ff">MA20: 1278.94</text>
<text x="586.5" y="31.4" fill="#00e600">MA250: 1666.93</text>
<text x="3" y="558" fill="#e0e0e0">VOLUME: 68860712.00</text>
<text x="202" y="558" fill="#ffffff">MA5: 50753272.00</text>
<text x="363" y="558" fill="#ffff00">MA10: 51144272.00</text>
<text x="3" y="733.6" fill="#c8c8c8">KDJ(9,3,3)</text>
<text x="97" y="733.6" fill="#ffffff">K: 71.09</text>
<text x="172" y="733.6" fill="#ffff00">D: 59.79</text>
<text x="248" y="733.6" fill="#ff00ff">J: 93.70</text>
</g>
<path d="M196.8 16.4 L199.8 16.4 L205.8 22.9 L205.8 24.9 L201.3 24.9 L201.3 33.4 L195.3 33.4 L195.3 24.9 L190.8 24.9 L190.8 22.9 Z" fill="#ff0000"/>
</svg>
</body></html>
